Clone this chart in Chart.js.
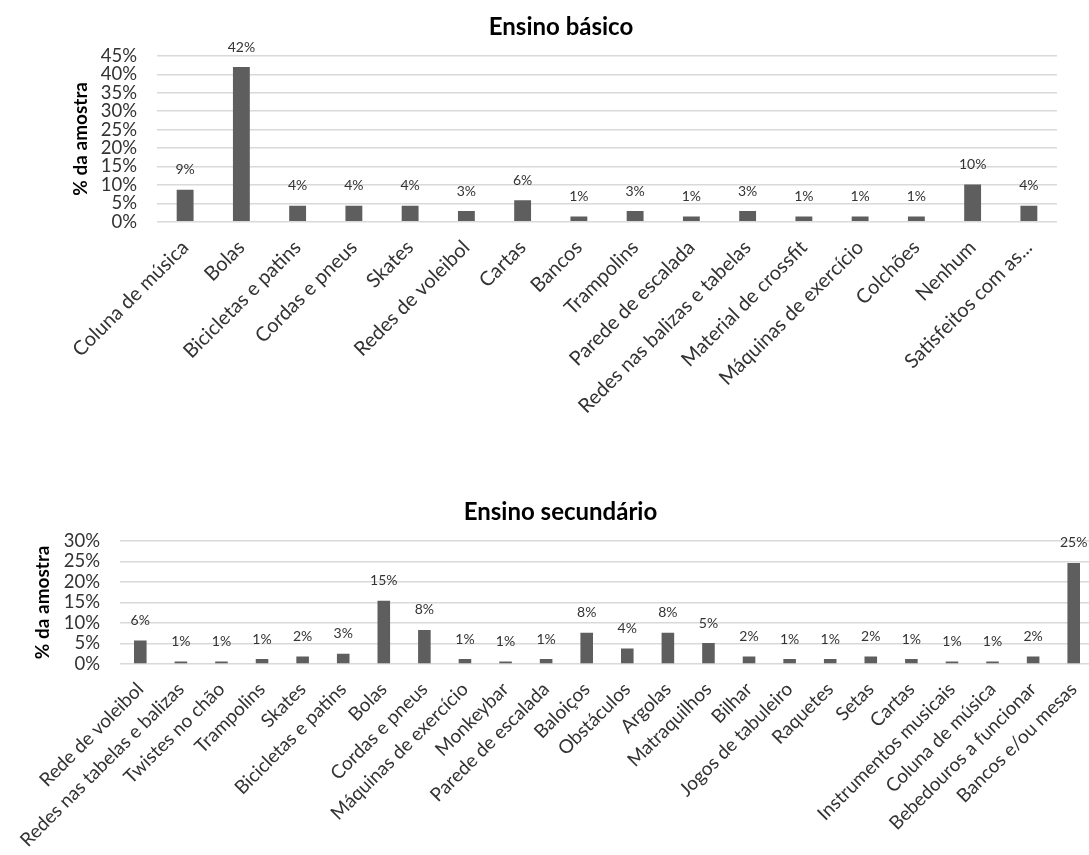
<!DOCTYPE html>
<html>
<head>
<meta charset="utf-8">
<script src="https://cdn.jsdelivr.net/npm/chart.js@4.4.1/dist/chart.umd.min.js"></script>
<style>
  html, body { margin: 0; padding: 0; background: #fff; overflow: hidden; width: 1089px; height: 855px; }
  #boxBasico { position: absolute; left: 0; top: 0; }
  #boxSecundario { position: absolute; left: 0; top: 480px; }
</style>
</head>
<body>
<div id="boxBasico"><canvas id="basico" width="1089" height="440"></canvas></div>
<div id="boxSecundario"><canvas id="secundario" width="1096" height="375"></canvas></div>
<script>
// Ensino básico
const basicoLabels = [
  'Coluna de música', 'Bolas', 'Bicicletas e patins', 'Cordas e pneus', 'Skates',
  'Redes de voleibol', 'Cartas', 'Bancos', 'Trampolins', 'Parede de escalada',
  'Redes nas balizas e tabelas', 'Material de crossfit', 'Máquinas de exercício',
  'Colchões', 'Nenhum', 'Satisfeitos com as...'
];
const basicoValues = [8.7, 42.0, 4.3, 4.3, 4.3, 2.9, 5.8, 1.4, 2.9, 1.4, 2.9, 1.4, 1.4, 1.4, 10.1, 4.3];
const basicoMax = 45;

// Ensino secundário
const secundarioLabels = [
  'Rede de voleibol', 'Redes nas tabelas e balizas', 'Twistes no chão', 'Trampolins',
  'Skates', 'Bicicletas e patins', 'Bolas', 'Cordas e pneus', 'Máquinas de exercício',
  'Monkeybar', 'Parede de escalada', 'Baloiços', 'Obstáculos', 'Argolas', 'Matraquilhos',
  'Bilhar', 'Jogos de tabuleiro', 'Raquetes', 'Setas', 'Cartas', 'Instrumentos musicais',
  'Coluna de música', 'Bebedouros a funcionar', 'Bancos e/ou mesas'
];
const secundarioValues = [5.7, 0.6, 0.6, 1.2, 1.8, 2.5, 15.4, 8.3, 1.2, 0.6, 1.2, 7.6, 3.8, 7.6, 5.1, 1.8, 1.2, 1.2, 1.8, 1.2, 0.6, 0.6, 1.8, 24.6];
const secundarioMax = 30;

const tickStep = 5;
const yTitle = '% da amostra';

// Writes the rounded percentage above each bar
const valueLabels = {
  id: 'valueLabels',
  afterDatasetsDraw(chart, args, opts) {
    const ctx = chart.ctx;
    ctx.save();
    ctx.font = opts.font;
    ctx.fillStyle = opts.color;
    ctx.textAlign = 'center';
    ctx.textBaseline = 'alphabetic';
    chart.data.datasets.forEach((ds, i) => {
      chart.getDatasetMeta(i).data.forEach((bar, j) => {
        ctx.fillText(Math.round(ds.data[j]) + '%', bar.x, bar.y - opts.offset);
      });
    });
    ctx.restore();
  }
};

function makeChart(id, title, labels, values, max, lay) {
  return new Chart(document.getElementById(id), {
    type: 'bar',
    data: {
      labels: labels,
      datasets: [{
        data: values,
        backgroundColor: '#5e5e5e',
        borderWidth: 0,
        categoryPercentage: 1,
        barPercentage: lay.barPct
      }]
    },
    plugins: [valueLabels],
    options: {
      responsive: false,
      animation: false,
      events: [],
      layout: { padding: { left: lay.padLeft, right: lay.padRight, top: 0, bottom: 0 } },
      plugins: {
        legend: { display: false },
        tooltip: { enabled: false },
        title: {
          display: true,
          text: title,
          color: '#000',
          font: { family: 'Lato', size: 24, weight: 'bold' },
          padding: { top: lay.titleTop, bottom: lay.titleBottom }
        },
        valueLabels: { font: '14px Lato', color: '#333', offset: 15.5 }
      },
      scales: {
        x: {
          grid: { display: false },
          border: { display: false },
          ticks: {
            autoSkip: false,
            minRotation: 45,
            maxRotation: 45,
            padding: 6,
            color: '#333',
            font: { family: 'Lato', size: lay.xFont }
          },
          afterFit: s => { s.height = lay.xHeight; }
        },
        y: {
          min: 0,
          max: max,
          grid: { color: '#d9d9d9', lineWidth: 1.5, drawTicks: false },
          border: { display: false },
          ticks: {
            stepSize: tickStep,
            autoSkip: false,
            padding: 20,
            color: '#333',
            font: { family: 'Lato', size: 18.5 },
            callback: v => v + '%'
          },
          title: {
            display: true,
            text: yTitle,
            color: '#000',
            font: { family: 'Lato', size: 19, weight: 'bold' },
            padding: { top: 4, bottom: 0 }
          },
          afterFit: s => { s.width = lay.yWidth; }
        }
      }
    }
  });
}

makeChart('basico', 'Ensino básico', basicoLabels, basicoValues, basicoMax, {
  padLeft: 65, padRight: 32, yWidth: 92, xHeight: 218.3, xFont: 20,
  titleTop: 12.6, titleBottom: 14.6, barPct: 0.30
});

makeChart('secundario', 'Ensino secundário', secundarioLabels, secundarioValues, secundarioMax, {
  padLeft: 27, padRight: 2, yWidth: 93, xHeight: 191, xFont: 19,
  titleTop: 17.6, titleBottom: 14.3, barPct: 0.31
});
</script>
</body>
</html>
